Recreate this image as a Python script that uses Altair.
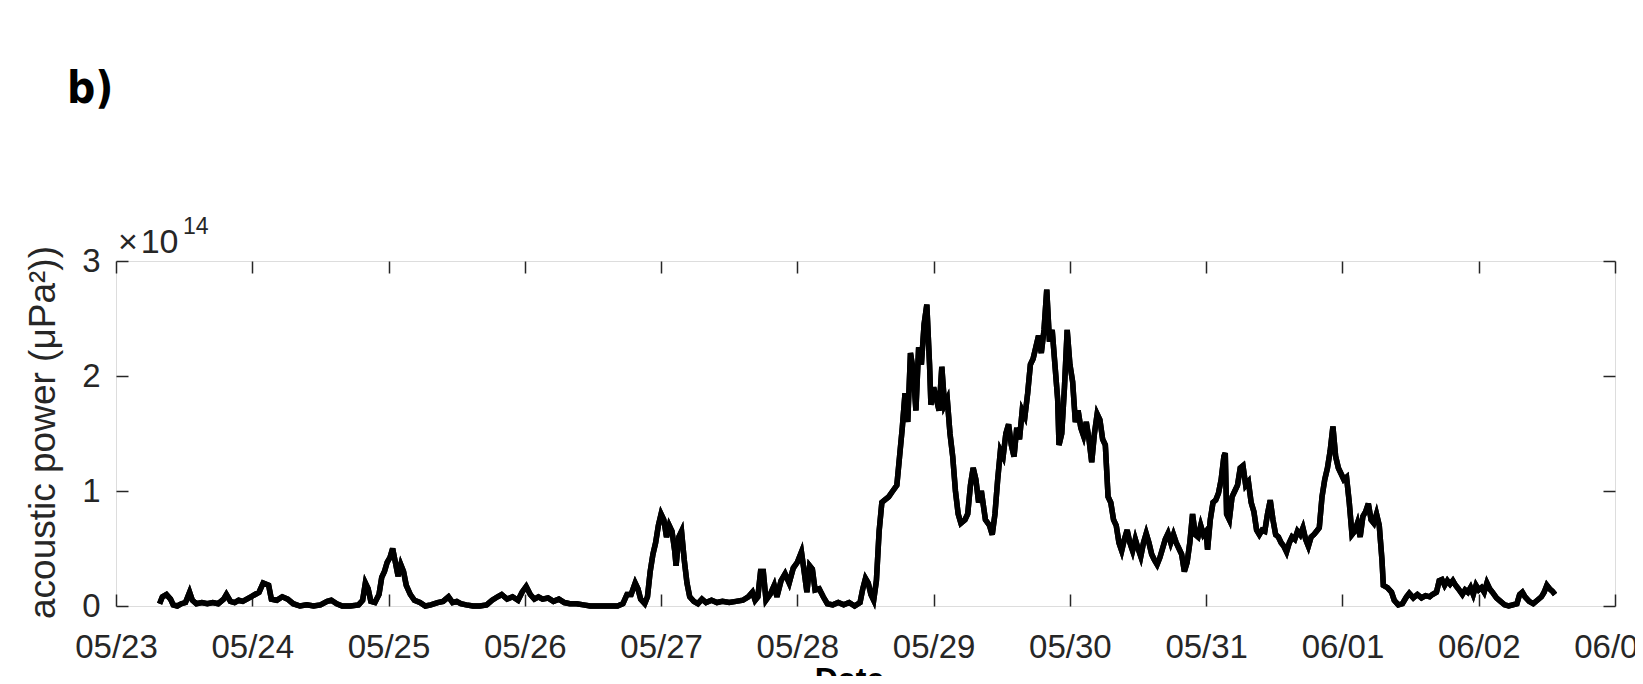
import altair as alt
import pandas as pd

# time since 05/23 00:00 (days) and acoustic power (units of 1e14 uPa^2)
day_offsets = [
    0.32, 0.34, 0.37, 0.40, 0.42, 0.45, 0.48, 0.51, 0.54, 0.56, 0.59, 0.63, 0.67, 0.71, 0.75, 0.79,
    0.81, 0.84, 0.87, 0.90, 0.93, 0.96, 0.99, 1.02, 1.05, 1.08, 1.12, 1.14, 1.18, 1.22, 1.26, 1.30,
    1.35, 1.40, 1.45, 1.50, 1.55, 1.58, 1.62, 1.66, 1.72, 1.78, 1.81, 1.83, 1.85, 1.87, 1.90, 1.93,
    1.95, 1.97, 1.99, 2.01, 2.03, 2.05, 2.07, 2.09, 2.11, 2.13, 2.16, 2.19, 2.23, 2.27, 2.31, 2.36,
    2.40, 2.44, 2.47, 2.50, 2.53, 2.57, 2.62, 2.67, 2.72, 2.76, 2.80, 2.83, 2.87, 2.91, 2.95, 2.98,
    3.01, 3.04, 3.07, 3.10, 3.13, 3.17, 3.21, 3.25, 3.29, 3.33, 3.38, 3.43, 3.48, 3.55, 3.62, 3.68,
    3.72, 3.75, 3.78, 3.81, 3.83, 3.85, 3.88, 3.90, 3.92, 3.94, 3.96, 3.98, 4.00, 4.02, 4.04, 4.06,
    4.08, 4.10, 4.11, 4.13, 4.15, 4.17, 4.19, 4.21, 4.24, 4.27, 4.30, 4.33, 4.37, 4.41, 4.45, 4.50,
    4.55, 4.60, 4.64, 4.67, 4.69, 4.71, 4.73, 4.75, 4.77, 4.80, 4.83, 4.85, 4.88, 4.91, 4.94, 4.97,
    5.00, 5.03, 5.05, 5.07, 5.09, 5.11, 5.13, 5.16, 5.19, 5.22, 5.26, 5.30, 5.34, 5.38, 5.42, 5.46,
    5.48, 5.50, 5.52, 5.54, 5.56, 5.58, 5.60, 5.62, 5.64, 5.67, 5.70, 5.73, 5.75, 5.77, 5.79, 5.81,
    5.83, 5.85, 5.87, 5.89, 5.91, 5.93, 5.95, 5.97, 5.98, 6.00, 6.02, 6.04, 6.06, 6.08, 6.10, 6.12,
    6.14, 6.16, 6.18, 6.20, 6.23, 6.25, 6.27, 6.29, 6.31, 6.33, 6.35, 6.38, 6.41, 6.43, 6.45, 6.47,
    6.49, 6.51, 6.53, 6.55, 6.57, 6.59, 6.61, 6.63, 6.65, 6.67, 6.69, 6.71, 6.73, 6.75, 6.77, 6.79,
    6.81, 6.83, 6.85, 6.87, 6.89, 6.91, 6.92, 6.94, 6.96, 6.98, 7.00, 7.02, 7.04, 7.06, 7.08, 7.10,
    7.12, 7.14, 7.16, 7.18, 7.20, 7.22, 7.24, 7.26, 7.28, 7.30, 7.32, 7.34, 7.36, 7.38, 7.40, 7.42,
    7.44, 7.46, 7.48, 7.50, 7.52, 7.54, 7.56, 7.58, 7.60, 7.62, 7.64, 7.66, 7.68, 7.70, 7.72, 7.74,
    7.76, 7.78, 7.80, 7.82, 7.84, 7.86, 7.88, 7.90, 7.92, 7.94, 7.96, 7.98, 8.00, 8.01, 8.03, 8.05,
    8.07, 8.09, 8.11, 8.13, 8.14, 8.15, 8.17, 8.19, 8.21, 8.23, 8.25, 8.27, 8.29, 8.31, 8.33, 8.35,
    8.37, 8.39, 8.41, 8.43, 8.45, 8.47, 8.49, 8.51, 8.53, 8.55, 8.57, 8.59, 8.61, 8.63, 8.65, 8.67,
    8.69, 8.71, 8.73, 8.75, 8.77, 8.79, 8.81, 8.83, 8.85, 8.87, 8.89, 8.91, 8.93, 8.95, 8.97, 8.99,
    9.01, 9.03, 9.05, 9.07, 9.09, 9.11, 9.13, 9.15, 9.17, 9.19, 9.21, 9.23, 9.25, 9.27, 9.29, 9.30,
    9.33, 9.36, 9.38, 9.41, 9.44, 9.47, 9.49, 9.52, 9.55, 9.58, 9.61, 9.64, 9.66, 9.69, 9.71, 9.73,
    9.75, 9.77, 9.79, 9.81, 9.83, 9.85, 9.88, 9.90, 9.92, 9.94, 9.96, 9.98, 10.00, 10.02, 10.04, 10.06,
    10.08, 10.10, 10.13, 10.16, 10.19, 10.22, 10.25, 10.28, 10.30, 10.32, 10.34, 10.37, 10.40, 10.43, 10.46, 10.48,
    10.50, 10.52, 10.54, 10.56,
]
power_1e14 = [
    0.02, 0.08, 0.10, 0.06, 0.01, 0.00, 0.02, 0.03, 0.12, 0.05, 0.02, 0.03, 0.02, 0.03, 0.02, 0.06,
    0.10, 0.04, 0.03, 0.05, 0.04, 0.06, 0.08, 0.10, 0.12, 0.20, 0.18, 0.06, 0.05, 0.08, 0.06, 0.02,
    0.00, 0.01, 0.00, 0.01, 0.04, 0.05, 0.02, 0.00, 0.00, 0.01, 0.05, 0.20, 0.15, 0.04, 0.03, 0.10,
    0.25, 0.30, 0.38, 0.42, 0.50, 0.38, 0.26, 0.36, 0.30, 0.18, 0.10, 0.05, 0.03, 0.00, 0.01, 0.03,
    0.04, 0.08, 0.03, 0.04, 0.02, 0.01, 0.00, 0.00, 0.01, 0.05, 0.08, 0.10, 0.06, 0.08, 0.05, 0.12,
    0.17, 0.10, 0.06, 0.08, 0.06, 0.07, 0.04, 0.06, 0.03, 0.02, 0.02, 0.01, 0.00, 0.00, 0.00, 0.00,
    0.02, 0.10, 0.10, 0.20, 0.15, 0.06, 0.02, 0.08, 0.30, 0.45, 0.55, 0.70, 0.80, 0.75, 0.60, 0.70,
    0.65, 0.48, 0.35, 0.60, 0.65, 0.40, 0.20, 0.08, 0.04, 0.02, 0.06, 0.03, 0.05, 0.03, 0.04, 0.03,
    0.04, 0.05, 0.08, 0.12, 0.05, 0.08, 0.30, 0.30, 0.05, 0.10, 0.18, 0.08, 0.22, 0.28, 0.20, 0.33,
    0.38, 0.47, 0.30, 0.12, 0.35, 0.32, 0.14, 0.15, 0.08, 0.02, 0.01, 0.03, 0.01, 0.03, 0.00, 0.03,
    0.15, 0.24, 0.20, 0.10, 0.05, 0.22, 0.65, 0.90, 0.92, 0.95, 1.00, 1.05, 1.30, 1.55, 1.85, 1.60,
    2.20, 2.05, 1.70, 2.25, 2.10, 2.45, 2.62, 2.10, 1.75, 1.90, 1.80, 1.70, 2.08, 1.75, 1.80, 1.50,
    1.30, 1.00, 0.80, 0.72, 0.75, 0.80, 1.05, 1.20, 1.10, 0.90, 1.00, 0.75, 0.70, 0.62, 0.80, 1.10,
    1.35, 1.30, 1.50, 1.58, 1.40, 1.30, 1.55, 1.45, 1.70, 1.65, 1.85, 2.10, 2.15, 2.25, 2.35, 2.20,
    2.40, 2.75, 2.30, 2.40, 2.10, 1.80, 1.40, 1.50, 1.90, 2.40, 2.10, 1.95, 1.60, 1.70, 1.55, 1.48,
    1.60, 1.45, 1.25, 1.50, 1.67, 1.62, 1.45, 1.40, 0.95, 0.90, 0.75, 0.70, 0.55, 0.48, 0.58, 0.66,
    0.55, 0.48, 0.58, 0.50, 0.43, 0.55, 0.63, 0.55, 0.45, 0.40, 0.36, 0.42, 0.50, 0.58, 0.63, 0.55,
    0.62, 0.55, 0.50, 0.45, 0.30, 0.38, 0.55, 0.80, 0.62, 0.60, 0.70, 0.62, 0.65, 0.49, 0.75, 0.90,
    0.92, 0.98, 1.10, 1.30, 1.33, 0.80, 0.75, 0.95, 1.00, 1.05, 1.20, 1.22, 1.05, 1.08, 0.90, 0.82,
    0.66, 0.62, 0.66, 0.65, 0.80, 0.92, 0.75, 0.62, 0.60, 0.55, 0.52, 0.47, 0.55, 0.60, 0.58, 0.65,
    0.62, 0.68, 0.58, 0.52, 0.60, 0.62, 0.65, 0.68, 0.95, 1.10, 1.20, 1.35, 1.56, 1.30, 1.20, 1.15,
    1.10, 1.12, 0.90, 0.62, 0.65, 0.72, 0.60, 0.78, 0.82, 0.89, 0.75, 0.72, 0.80, 0.70, 0.40, 0.18,
    0.16, 0.12, 0.05, 0.01, 0.02, 0.08, 0.11, 0.07, 0.10, 0.07, 0.09, 0.08, 0.10, 0.12, 0.22, 0.23,
    0.18, 0.22, 0.19, 0.22, 0.18, 0.15, 0.10, 0.14, 0.12, 0.16, 0.10, 0.18, 0.14, 0.16, 0.12, 0.20,
    0.15, 0.12, 0.07, 0.04, 0.01, 0.00, 0.01, 0.02, 0.10, 0.12, 0.08, 0.04, 0.02, 0.05, 0.08, 0.12,
    0.18, 0.15, 0.13, 0.10,
]
y_ticks = [0, 1, 2, 3]
start_date = "2017-05-23"
may_days = list(range(23, 32))
june_days = [1, 2, 3]

times = pd.Timestamp(start_date) + pd.to_timedelta(day_offsets, unit="D")
df = pd.DataFrame({"time": times, "power": power_1e14})

tick_vals = [alt.DateTime(year=2017, month=5, date=d) for d in may_days] + \
            [alt.DateTime(year=2017, month=6, date=d) for d in june_days]
x_scale = alt.Scale(domain=[tick_vals[0], tick_vals[-1]], nice=False)
y_scale = alt.Scale(domain=[0, 3], nice=False, zero=False)

AX = "#262626"
FONT = "Liberation Sans"

x_bottom = alt.Axis(values=tick_vals, format="%m/%d", labelFlush=False, labelOverlap=False,
                    tickSize=12, offset=-12, domain=False, grid=False, tickColor=AX, tickWidth=1.5,
                    labelFont=FONT, labelFontSize=33, labelColor=AX, labelPadding=25,
                    title="Date", titleFont=FONT, titleFontSize=32, titleFontWeight="bold",
                    titleColor="black", titleX=733, titleY=70, titleBaseline="top", titleAlign="center")
y_left = alt.Axis(values=y_ticks, format="d", tickSize=12, offset=-12, domain=False, grid=False,
                  tickColor=AX, tickWidth=1.5, labelFont=FONT, labelFontSize=33, labelColor=AX,
                  labelPadding=16, title="acoustic power (μPa²))", titleFont=FONT, titleFontSize=37,
                  titleFontWeight="normal", titleColor=AX, titleAngle=270, titleX=-85, titleY=171,
                  titleBaseline="middle", titleAlign="center")
x_top = alt.Axis(orient="top", values=tick_vals, labels=False, title=None, tickSize=12, offset=-12,
                 domain=False, grid=False, tickColor=AX, tickWidth=1.5)
y_right = alt.Axis(orient="right", values=y_ticks, labels=False, title=None, tickSize=12, offset=-12,
                   domain=False, grid=False, tickColor=AX, tickWidth=1.5)

line = alt.Chart(df).mark_line(color="black", strokeWidth=5.5, strokeJoin="miter").encode(
    x=alt.X("time:T", scale=x_scale, axis=x_bottom),
    y=alt.Y("power:Q", scale=y_scale, axis=y_left),
)
frame = alt.Chart(df).mark_line(color="black", strokeWidth=5.5, strokeJoin="miter").encode(
    x=alt.X("time:T", scale=x_scale, axis=x_top),
    y=alt.Y("power:Q", scale=y_scale, axis=y_right),
)

txt = pd.DataFrame({"t": ["×\u200a10", "14", "b)"]})
exp_base = alt.Chart(txt.iloc[[0]]).mark_text(
    align="left", baseline="alphabetic", font=FONT, fontSize=34, color=AX
).encode(text="t:N", x=alt.value(2), y=alt.value(-8))
exp_pow = alt.Chart(txt.iloc[[1]]).mark_text(
    align="left", baseline="alphabetic", font=FONT, fontSize=23, color=AX
).encode(text="t:N", x=alt.value(67), y=alt.value(-27))
panel = alt.Chart(txt.iloc[[2]]).mark_text(
    align="left", baseline="alphabetic",
    font="Liberation Sans Narrow, DejaVu Sans Condensed, Liberation Sans, sans-serif",
    fontSize=44, fontWeight="bold", color="black"
).encode(text="t:N", x=alt.value(-49), y=alt.value(-158))

chart = alt.layer(line, frame, exp_base, exp_pow, panel).resolve_axis(
    x="independent", y="independent"
).properties(
    width=1499, height=345,
    autosize=alt.AutoSizeParams(type="none"),
    padding={"left": 108, "top": 253, "right": 20, "bottom": 70},
).configure_view(stroke=AX, strokeWidth=1.5).configure(background="white")

chart.save("out.html", embed_options={"renderer": "svg", "actions": False})
